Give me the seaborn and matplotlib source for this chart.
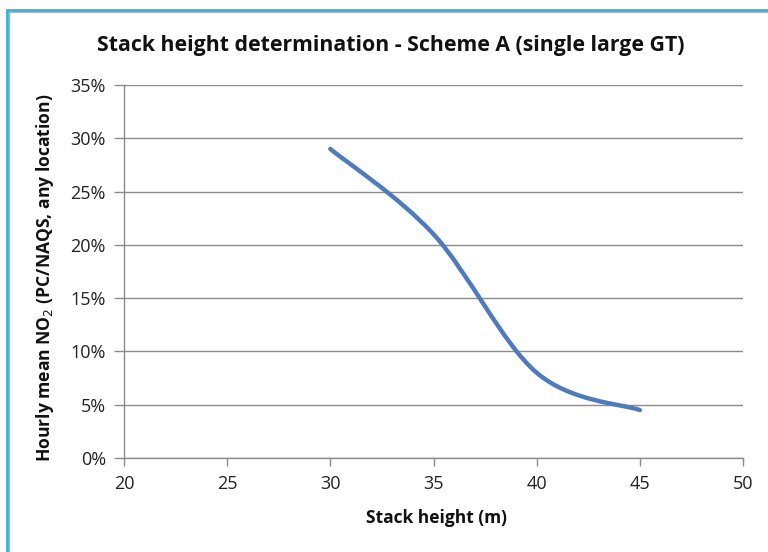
import numpy as np
import matplotlib
matplotlib.use("Agg")
import matplotlib.pyplot as plt
import seaborn as sns
from matplotlib.path import Path
from matplotlib.patches import PathPatch, Rectangle
from matplotlib.ticker import FuncFormatter

# dados
stack_height = [30, 35, 40, 45]
no2_ratio = [29.0, 21.0, 8.0, 4.5]   # em %
x_ticks = [20, 25, 30, 35, 40, 45, 50]
y_ticks = [0, 5, 10, 15, 20, 25, 30, 35]

sns.set_style("white")
plt.rcParams['font.family'] = ['Open Sans', 'DejaVu Sans']

fig = plt.figure(figsize=(7.68, 5.52), dpi=100)
ax = fig.add_axes([124 / 768, 94 / 552, (743 - 124) / 768, (458 - 85) / 552])

# moldura azul (estilo Excel)
fig.patches.append(Rectangle((7 / 768, -0.1), 1.2, (552 - 10) / 552 + 0.1,
                             transform=fig.transFigure, fill=False,
                             edgecolor='#2bb5de', linewidth=2.0, zorder=0))
fig.patches.append(Rectangle((9 / 768, -0.1), 1.2, (552 - 12) / 552 + 0.1,
                             transform=fig.transFigure, fill=False,
                             edgecolor='#b0b0b0', linewidth=0.8, zorder=0))

# curva suavizada (bezier tipo Excel) a partir dos pontos
pts = np.column_stack([stack_height, no2_ratio])
verts = [tuple(pts[0])]
codes = [Path.MOVETO]
n = len(pts)
for i in range(n - 1):
    p_prev = pts[max(i - 1, 0)]
    p0, p1 = pts[i], pts[i + 1]
    p_next = pts[min(i + 2, n - 1)]
    c1 = p0 + (p1 - p_prev) / 6
    c2 = p1 - (p_next - p0) / 6
    verts += [tuple(c1), tuple(c2), tuple(p1)]
    codes += [Path.CURVE4] * 3
ax.add_patch(PathPatch(Path(verts, codes), fill=False, edgecolor='#4f7bbd',
                       linewidth=3.2, capstyle='round', zorder=3))

ax.set_xlim(20, 50)
ax.set_ylim(0, 35)
ax.set_xticks(x_ticks)
ax.set_yticks(y_ticks)
ax.yaxis.set_major_formatter(FuncFormatter(lambda v, p: f"{v:.0f}%"))
ax.grid(axis='y', color='#8c8c8c', linewidth=1.0)
ax.set_axisbelow(True)
for s in ['top', 'right']:
    ax.spines[s].set_visible(False)
for s in ['left', 'bottom']:
    ax.spines[s].set_color('#8c8c8c')
    ax.spines[s].set_linewidth(1.0)
ax.tick_params(axis='both', direction='out', width=1.0, color='#8c8c8c',
               labelsize=13, labelcolor='#222222')
ax.tick_params(axis='x', bottom=True, length=6, pad=6)
ax.tick_params(axis='y', left=True, length=7, pad=6)

fig.text(391 / 768, 1 - 45 / 552,
         "Stack height determination - Scheme A (single large GT)",
         fontsize=15.3, fontweight='bold', color='#111111',
         ha='center', va='center')
fig.text(436 / 768, 1 - 518 / 552, "Stack height (m)", fontsize=12.5,
         fontweight='bold', ha='center', va='center', color='#111111')
fig.text(45 / 768, 1 - 278 / 552, "Hourly mean NO$_2$ (PC/NAQS, any location)",
         fontsize=12.6, fontweight='bold', rotation=90, ha='center',
         va='center', color='#111111')

plt.savefig("out.png", dpi=100)
